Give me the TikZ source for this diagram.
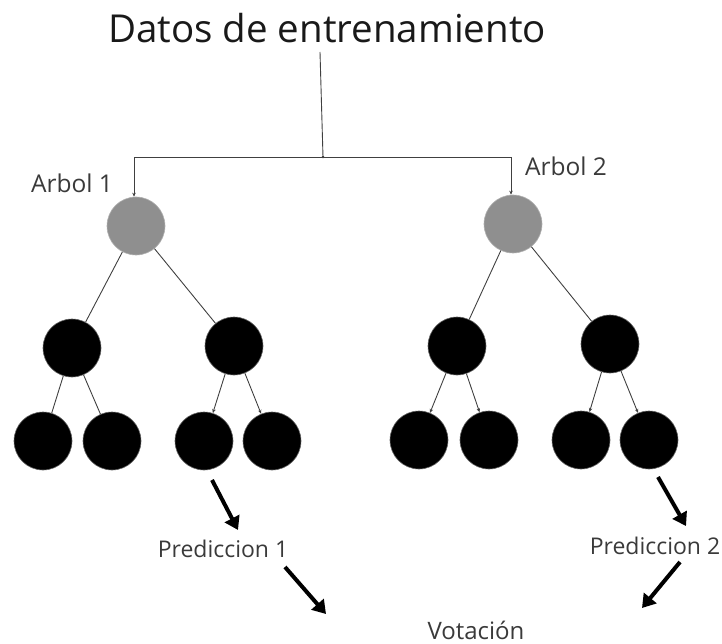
\documentclass[tikz,border=0pt]{standalone}
\usepackage{fontspec}
\setmainfont{Open Sans}
\usetikzlibrary{arrows.meta}
\definecolor{rootgray}{HTML}{8F8F8F}
\definecolor{txtgray}{HTML}{3A3A3A}
\begin{document}
\begin{tikzpicture}[x=1pt,y=-1pt,
  rootnode/.style={circle,fill=rootgray,draw=rootgray!70,line width=0.6pt,minimum size=58pt,inner sep=0pt},
  leafnode/.style={circle,fill=black,draw=black!60,line width=0.6pt,minimum size=58pt,inner sep=0pt},
  edge/.style={draw=black!75,line width=0.9pt},
  tip/.style={edge,-{Stealth[length=4pt,width=3.5pt]}},
  bigarrow/.style={draw=black,line width=4pt,-{Triangle[length=13pt,width=16pt]}},
  lbl/.style={font=\fontsize{23}{26}\selectfont,text=txtgray,inner sep=0pt}
]
\useasboundingbox (0,0) rectangle (722,644);
\node[font=\fontsize{38.5}{44}\selectfont,text=black!90,inner sep=0pt] (title) at (327,28) {Datos de entrenamiento};
\coordinate (top) at (320,52);
\coordinate (junc) at (323,157);
\coordinate (jl) at (134,157);
\coordinate (jr) at (511,157);
% tree 1
\node[rootnode] (r1) at (136,226) {};
\node[leafnode] (a1) at (72,348) {};
\node[leafnode] (b1) at (234,346) {};
\node[leafnode] (l11) at (43,441) {};
\node[leafnode] (l12) at (112,441) {};
\node[leafnode] (l13) at (204,441) {};
\node[leafnode] (l14) at (272,441) {};
% tree 2
\node[rootnode] (r2) at (513,224) {};
\node[leafnode] (a2) at (457,346) {};
\node[leafnode] (b2) at (610,344) {};
\node[leafnode] (l21) at (419,440) {};
\node[leafnode] (l22) at (489,440) {};
\node[leafnode] (l23) at (581,440) {};
\node[leafnode] (l24) at (649,440) {};
% labels
\node[lbl,font=\fontsize{24.5}{28}\selectfont] (t1) at (72,183) {Arbol 1};
\node[lbl,font=\fontsize{24.5}{28}\selectfont] (t2) at (566,166) {Arbol 2};
\node[lbl] (p1) at (223,549) {Prediccion 1};
\node[lbl] (p2) at (655,546) {Prediccion 2};
\node[lbl,font=\fontsize{24}{28}\selectfont] (vot) at (476,630) {Votación};
% top connector
\draw[edge] (top) -- (junc);
\fill[black!80] (junc) circle (1.3pt);
\draw[tip] (junc) -- (jl) -- (jl |- r1.north);
\draw[tip] (junc) -- (jr) -- (jr |- r2.north);
% edges tree 1
\draw[edge] (r1) -- (a1);
\draw[edge] (r1) -- (b1);
\draw[edge] (a1) -- (l11);
\draw[edge] (a1) -- (l12);
\draw[tip] (b1) -- (l13);
\draw[tip] (b1) -- (l14);
% edges tree 2
\draw[edge] (r2) -- (a2);
\draw[edge] (r2) -- (b2);
\draw[tip] (a2) -- (l21);
\draw[tip] (a2) -- (l22);
\draw[tip] (b2) -- (l23);
\draw[tip] (b2) -- (l24);
% thick arrows
\coordinate (s1) at (212,480);
\coordinate (e1) at (238,530);
\coordinate (s2) at (285,567);
\coordinate (e2) at (326,614);
\coordinate (s3) at (658,477);
\coordinate (e3) at (686,526);
\coordinate (s4) at (680,562);
\coordinate (e4) at (642,608);
\draw[bigarrow] (s1) -- (e1);
\draw[bigarrow] (s2) -- (e2);
\draw[bigarrow] (s3) -- (e3);
\draw[bigarrow] (s4) -- (e4);
\end{tikzpicture}
\end{document}
